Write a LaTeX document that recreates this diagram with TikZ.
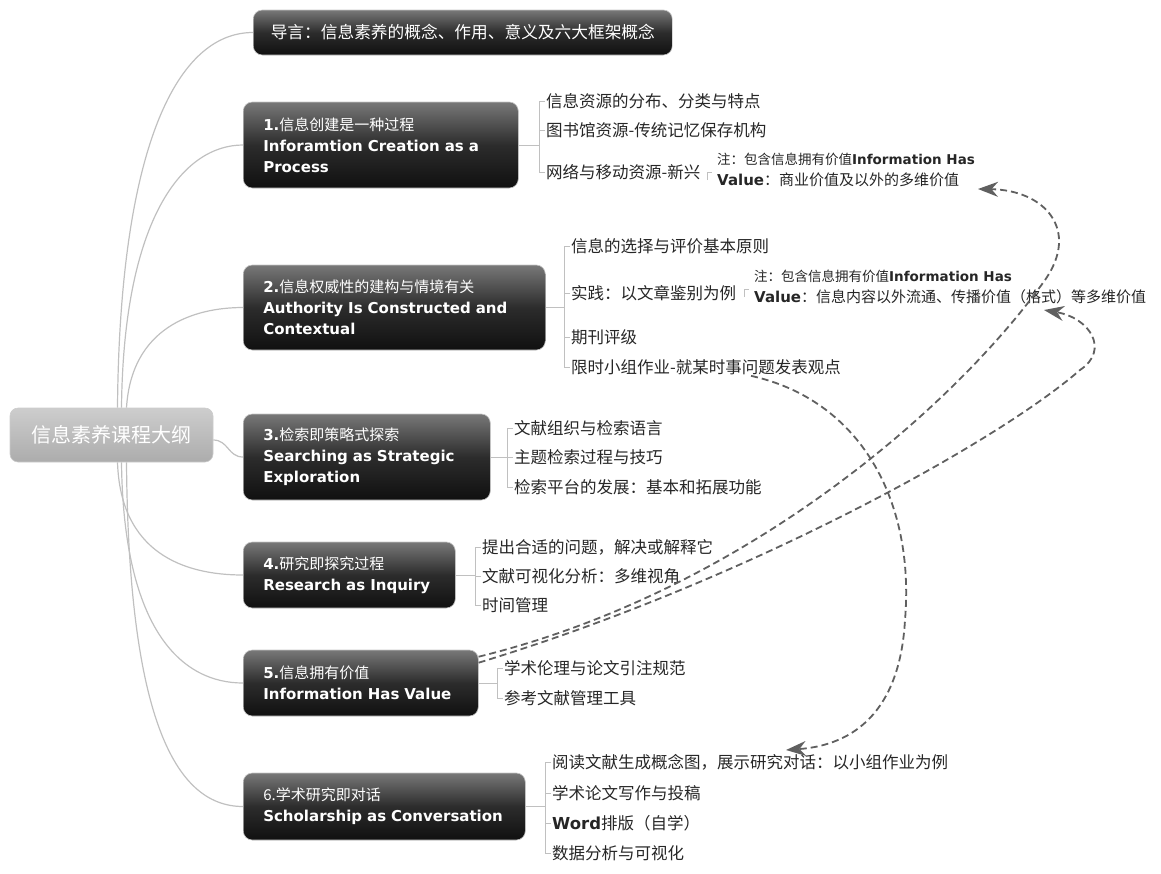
\documentclass[tikz,border=0pt]{standalone}
\usepackage{fontspec}
\setmainfont{Noto Sans CJK SC}
\newfontfamily\enfont{DejaVu Sans}
\usetikzlibrary{shapes,arrows.meta,positioning,calc}

\definecolor{boxtop}{RGB}{120,120,120}
\definecolor{boxmid}{RGB}{44,44,44}
\definecolor{boxbot}{RGB}{16,16,16}
\definecolor{roottop}{RGB}{205,205,205}
\definecolor{rootbot}{RGB}{172,172,172}
\definecolor{linkgray}{RGB}{192,192,192}
\definecolor{itemtext}{RGB}{38,38,38}
\definecolor{dashgray}{RGB}{96,96,96}

\newcommand{\en}[1]{{\enfont\bfseries #1}}

\tikzset{
  topic/.style={rectangle, rounded corners=9pt, top color=boxtop, bottom color=boxbot, middle color=boxmid,
    draw=gray!45, line width=0.6pt, text=white, anchor=west, align=left, inner xsep=20pt,
    font=\fontsize{15}{21}\selectfont},
  rootbox/.style={rectangle, rounded corners=8pt, top color=roottop, bottom color=rootbot,
    draw=gray!40, line width=0.6pt, text=white, font=\fontsize{20}{24}\selectfont},
  item/.style={anchor=west, inner sep=1pt, text=itemtext, font=\fontsize{16.5}{20}\selectfont},
  note/.style={anchor=west, inner sep=1pt, align=left, text=itemtext, font=\fontsize{15}{21}\selectfont},
  brk/.style={draw=linkgray, line width=0.8pt},
  branch/.style={draw=linkgray, line width=1.2pt},
  crosslink/.style={draw=dashgray, line width=1.8pt, dash pattern=on 7pt off 4pt,
    >={Stealth[scale=1.8]}, ->}
}

\begin{document}
\begin{tikzpicture}[x=1pt, y=-1pt]
    \useasboundingbox (0,0) rectangle (1161,873);

    % main topics
    \node[rootbox, minimum width=203pt, minimum height=54pt] (root) at (111.5,435) {信息素养课程大纲};
    \node[topic, inner xsep=17pt, minimum width=419pt, minimum height=45pt, font=\fontsize{16.7}{20}\selectfont] (intro) at (253,32.5) {导言：信息素养的概念、作用、意义及六大框架概念};
    \node[topic, text width=235pt, minimum height=86pt] (n1) at (243,145) {\en{1.}信息创建是一种过程\\\en{Inforamtion Creation as a}\\\en{Process}};
    \node[topic, text width=262pt, minimum height=85pt] (n2) at (243,307.5) {\en{2.}信息权威性的建构与情境有关\\\en{Authority Is Constructed and}\\\en{Contextual}};
    \node[topic, text width=207pt, minimum height=86pt] (n3) at (243,457) {\en{3.}检索即策略式探索\\\en{Searching as Strategic}\\\en{Exploration}};
    \node[topic, text width=172pt, minimum height=66pt] (n4) at (243,575) {\en{4.}研究即探究过程\\\en{Research as Inquiry}};
    \node[topic, text width=195pt, minimum height=66pt] (n5) at (243,683) {\en{5.}信息拥有价值\\\en{Information Has Value}};
    \node[topic, text width=242pt, minimum height=67pt] (n6) at (243,806.5) {6.学术研究即对话\\\en{Scholarship as Conversation}};

    % branches from the root
    \draw[branch] ([xshift=6pt]root.north) .. controls +(2,-250) and +(-80,0) .. (intro.west);
    \draw[branch] ([xshift=10pt]root.north) .. controls +(2,-190) and +(-60,0) .. (n1.west);
    \draw[branch] ([xshift=15pt]root.north) .. controls +(5,-80) and +(-50,0) .. (n2.west);
    \draw[branch] ([yshift=-5pt]root.east) .. controls +(15,0) and +(-15,0) .. (n3.west);
    \draw[branch] ([xshift=6pt]root.south) .. controls +(3,90) and +(-60,0) .. (n4.west);
    \draw[branch] ([xshift=10pt]root.south) .. controls +(2,170) and +(-60,0) .. (n5.west);
    \draw[branch] ([xshift=15pt]root.south) .. controls +(2,250) and +(-70,0) .. (n6.west);

    % topic 1
    \node[item] (i11) at (545,101) {信息资源的分布、分类与特点};
    \node[item] (i12) at (545,130) {图书馆资源-传统记忆保存机构};
    \node[item] (i13) at (545,172) {网络与移动资源-新兴};
    \draw[brk] (i11.west) -- ++(-6,0) |- (i13.west);
    \draw[brk] (i12.west) -- ++(-6,0);
    \draw[brk] (n1.east) -- ($(n1.east -| i11.west)+(-6,0)$);
    \node[note] (note1) at (716,170) {{\fontsize{13.5}{21}\selectfont 注：包含信息拥有价值\en{Information Has}}\\\en{Value}：商业价值及以外的多维价值};
    \draw[brk] ($(note1.west)+(-9,10)$) -- ++(0,-8) -- ++(5,0);

    % topic 2
    \node[item] (i21) at (570,246) {信息的选择与评价基本原则};
    \node[item] (i22) at (570,293) {实践：以文章鉴别为例};
    \node[item] (i23) at (570,337) {期刊评级};
    \node[item] (i24) at (570,367) {限时小组作业-就某时事问题发表观点};
    \draw[brk] (i21.west) -- ++(-6,0) |- (i24.west);
    \draw[brk] (i22.west) -- ++(-6,0);
    \draw[brk] (i23.west) -- ++(-6,0);
    \draw[brk] (n2.east) -- ($(n2.east -| i21.west)+(-6,0)$);
    \node[note] (note2) at (753,287) {{\fontsize{13.5}{21}\selectfont 注：包含信息拥有价值\en{Information Has}}\\\en{Value}：信息内容以外流通、传播价值（格式）等多维价值};
    \draw[brk] ($(note2.west)+(-9,10)$) -- ++(0,-8) -- ++(5,0);

    % topic 3
    \node[item] (i31) at (513,428) {文献组织与检索语言};
    \node[item] (i32) at (513,457) {主题检索过程与技巧};
    \node[item] (i33) at (513,487) {检索平台的发展：基本和拓展功能};
    \draw[brk] (i31.west) -- ++(-6,0) |- (i33.west);
    \draw[brk] (i32.west) -- ++(-6,0);
    \draw[brk] (n3.east) -- ($(n3.east -| i31.west)+(-6,0)$);

    % topic 4
    \node[item] (i41) at (481,547) {提出合适的问题，解决或解释它};
    \node[item] (i42) at (481,576) {文献可视化分析：多维视角};
    \node[item] (i43) at (481,605) {时间管理};
    \draw[brk] (i41.west) -- ++(-6,0) |- (i43.west);
    \draw[brk] (i42.west) -- ++(-6,0);
    \draw[brk] (n4.east) -- ($(n4.east -| i41.west)+(-6,0)$);

    % topic 5
    \node[item] (i51) at (503,668) {学术伦理与论文引注规范};
    \node[item] (i52) at (503,698) {参考文献管理工具};
    \draw[brk] (i51.west) -- ++(-6,0) |- (i52.west);
    \draw[brk] (n5.east) -- ($(n5.east -| i51.west)+(-6,0)$);

    % topic 6
    \node[item] (i61) at (551,762) {阅读文献生成概念图，展示研究对话：以小组作业为例};
    \node[item] (i62) at (551,793) {学术论文写作与投稿};
    \node[item] (i63) at (551,823) {\en{Word}排版（自学）};
    \node[item] (i64) at (551,853) {数据分析与可视化};
    \draw[brk] (i61.west) -- ++(-6,0) |- (i64.west);
    \draw[brk] (i62.west) -- ++(-6,0);
    \draw[brk] (i63.west) -- ++(-6,0);
    \draw[brk] (n6.east) -- ($(n6.east -| i61.west)+(-6,0)$);

    % cross links
    \coordinate (tipA) at (978,189);
    \coordinate (tipB) at (1044,310);
    \coordinate (tipC) at (786,750);
    \draw[crosslink] ([yshift=-7pt]n5.north east) .. controls (750,590) and (960,400) .. (1045,280)
        .. controls (1080,230) and (1045,190) .. (tipA);
    \draw[crosslink] ([yshift=-13pt]n5.north east) .. controls (750,580) and (1000,440) .. (1080,370)
        .. controls (1110,350) and (1090,318) .. (tipB);
    \draw[crosslink] ([xshift=45pt]i24.south) .. controls (860,400) and (915,500) .. (905,620)
        .. controls (900,710) and (855,745) .. (tipC);
\end{tikzpicture}
\end{document}
